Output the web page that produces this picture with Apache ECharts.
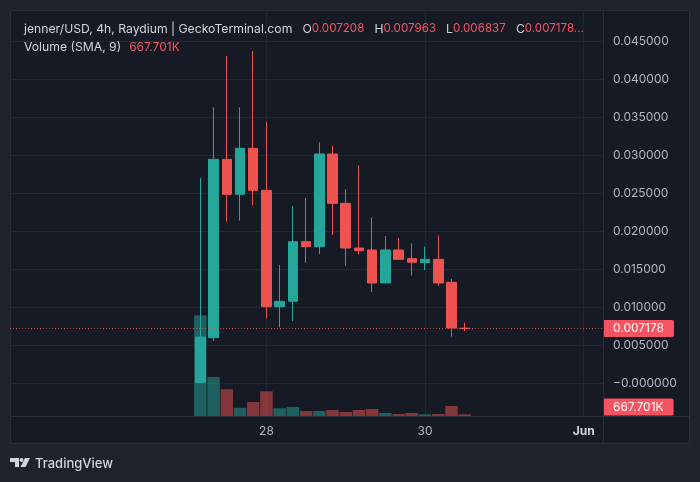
<!DOCTYPE html>
<html><head><meta charset="utf-8">
<script src="https://cdn.jsdelivr.net/npm/echarts@6/dist/echarts.min.js"></script>
<style>html,body{margin:0;padding:0;background:#1e222d}#c{width:700px;height:482px}</style>
</head><body><div id="c"></div>
<script>
// ---- data ----
const times = [
  '2024-05-27T04:00:00Z','2024-05-27T08:00:00Z','2024-05-27T12:00:00Z','2024-05-27T16:00:00Z','2024-05-27T20:00:00Z',
  '2024-05-28T00:00:00Z','2024-05-28T04:00:00Z','2024-05-28T08:00:00Z','2024-05-28T12:00:00Z','2024-05-28T16:00:00Z','2024-05-28T20:00:00Z',
  '2024-05-29T00:00:00Z','2024-05-29T04:00:00Z','2024-05-29T08:00:00Z','2024-05-29T12:00:00Z','2024-05-29T16:00:00Z','2024-05-29T20:00:00Z',
  '2024-05-30T00:00:00Z','2024-05-30T04:00:00Z','2024-05-30T08:00:00Z','2024-05-30T12:00:00Z'
];
const opens  = [0.00005,0.00596,0.02943,0.02483,0.03088,0.02535,0.01004,0.01075,0.01859,0.01794,0.03013,0.02364,0.01776,0.01750,0.01316,0.01750,0.01636,0.01583,0.01627,0.01325,0.007208];
const closes = [0.00605,0.02943,0.02483,0.03088,0.02535,0.01004,0.01075,0.01859,0.01794,0.03013,0.02364,0.01776,0.01741,0.01316,0.01750,0.01627,0.01588,0.01627,0.01316,0.00724,0.007178];
const lows   = [0.00003,0.00553,0.02122,0.02136,0.02338,0.00851,0.00733,0.00816,0.01583,0.01697,0.01947,0.01544,0.01693,0.01197,0.01316,0.01627,0.01412,0.01487,0.01280,0.00609,0.006837];
const highs  = [0.02697,0.03628,0.04303,0.03628,0.04368,0.03438,0.01553,0.02329,0.02439,0.03167,0.03122,0.02548,0.02864,0.02180,0.01934,0.01908,0.01838,0.01794,0.01938,0.01368,0.007963];
// volume in millions
const volumes = [40.3,15.6,10.7,3.3,5.6,9.9,3.1,3.6,2.0,2.0,2.4,1.6,2.4,2.8,1.2,0.8,1.2,0.68,0.8,4.0,0.667701];
const dayTicks = ['2024-05-28T00:00:00Z','2024-05-30T00:00:00Z','2024-06-01T00:00:00Z'];
const dayLabels = ['28','30','Jun'];
const priceInterval = 0.005;
const symbolTitle = 'jenner/USD, 4h, Raydium | GeckoTerminal.com';
const volumeTitle = 'Volume (SMA, 9)';
const volumeText = '667.701K';

// ---- helpers ----
const UP = '#26a69a', DOWN = '#ef5350', LABEL_RED = '#f7525f';
const FONT = 'Inter, Roboto, sans-serif';
const t0 = Date.parse(times[0]);
const hx = t => (Date.parse(t) - t0) / 3.6e6;
const xs = times.map(hx);
const tickX = dayTicks.map(hx);
const n = times.length;
const last = n - 1;

const candleData = xs.map((x, i) => [x, opens[i], closes[i], lows[i], highs[i]]);
const volData = xs.map((x, i) => ({
  value: [x, volumes[i]],
  itemStyle: { color: closes[i] >= opens[i] ? 'rgba(38,166,154,0.5)' : 'rgba(239,83,80,0.5)' }
}));

const fmtP = v => v.toFixed(6);

const chart = echarts.init(document.getElementById('c'), null, { renderer: 'canvas' });
const xMin = -57.6, xMax = 121.85;
const volLabelLevel = Math.max(volumes[last], 3.6);

const tagLabel = text => ({
  show: true, position: 'end', distance: 0, formatter: text, opacity: 1,
  backgroundColor: LABEL_RED, color: '#ffffff', fontSize: 12, fontFamily: FONT,
  lineHeight: 13, padding: [2, 10, 2, 10], borderRadius: 2
});

chart.setOption({
  animation: false,
  backgroundColor: '#1e222d',
  textStyle: { fontFamily: FONT },
  title: {
    left: 19, top: 15,
    text: `{n|${symbolTitle}}  {k|O}{v|${fmtP(opens[last])}}  {k|H}{v|${fmtP(highs[last])}}  {k|L}{v|${fmtP(lows[last])}}  {k|C}{v|${fmtP(closes[last])}...}\n{n|${volumeTitle}} {w|${volumeText}}`,
    textStyle: {
      fontWeight: 'normal',
      rich: {
        n: { color: '#d1d4dc', fontSize: 12.2, fontWeight: 'normal', fontFamily: FONT, lineHeight: 18 },
        k: { color: '#d1d4dc', fontSize: 12.2, fontWeight: 'normal', fontFamily: FONT, lineHeight: 18 },
        v: { color: LABEL_RED, fontSize: 11.6, fontWeight: 'normal', fontFamily: FONT, lineHeight: 18 },
        w: { color: LABEL_RED, fontSize: 12, fontWeight: 'normal', fontFamily: FONT, lineHeight: 18, padding: [0, 0, 0, 3] }
      }
    }
  },
  graphic: [
    { type: 'rect', z: -10, shape: { x: 10.5, y: 10.5, width: 679, height: 433 }, style: { fill: '#161a25', stroke: '#2a2e39', lineWidth: 1 } },
    { type: 'line', z: 100, shape: { x1: 603.5, y1: 10, x2: 603.5, y2: 443 }, style: { stroke: '#2a2e39', lineWidth: 1 } },
    { type: 'line', z: 100, shape: { x1: 10, y1: 416.5, x2: 690, y2: 416.5 }, style: { stroke: '#2a2e39', lineWidth: 1 } },
    { type: 'polygon', z: 100, shape: { points: [[10,458],[19,458],[19,467],[15,467],[15,462],[10,462]] }, style: { fill: '#d1d4dc' } },
    { type: 'circle', z: 100, shape: { cx: 21.5, cy: 460, r: 2 }, style: { fill: '#d1d4dc' } },
    { type: 'polygon', z: 100, shape: { points: [[25,458],[30,458],[25.5,467],[20.5,467]] }, style: { fill: '#d1d4dc' } },
    { type: 'text', z: 100, style: { x: 35, y: 464, text: 'TradingView', fill: '#d1d4dc', font: '500 13px ' + FONT, textVerticalAlign: 'middle' } }
  ],
  grid: [
    { left: 10, right: 97, top: 10, bottom: 61 },
    { left: 10, right: 97, top: 10, bottom: 66 }
  ],
  xAxis: [
    { gridIndex: 0, type: 'value', min: xMin, max: xMax, show: false },
    {
      gridIndex: 1, type: 'value', min: xMin, max: xMax,
      axisLine: { show: false },
      axisTick: { show: false, customValues: tickX },
      axisLabel: {
        customValues: tickX, color: '#b2b5be', fontSize: 12, margin: 9, fontFamily: FONT,
        formatter: v => {
          const i = tickX.findIndex(t => Math.abs(t - v) < 1e-6);
          const s = i >= 0 ? dayLabels[i] : '';
          return /^\d+$/.test(s) ? s : '{m|' + s + '}';
        },
        rich: { m: { color: '#d1d4dc', fontSize: 12, fontWeight: 'bold', fontFamily: FONT } }
      },
      splitLine: { show: true, lineStyle: { color: '#232733', width: 1 } }
    }
  ],
  yAxis: [
    {
      gridIndex: 0, type: 'value', position: 'right',
      min: -priceInterval, max: 0.0490789, interval: priceInterval,
      axisLine: { show: false }, axisTick: { show: false },
      axisLabel: {
        color: '#b2b5be', fontSize: 12, margin: 10, fontFamily: FONT,
        showMinLabel: false, showMaxLabel: false,
        formatter: v => Math.abs(v) < 1e-9 ? '\u22120.000000' : v.toFixed(6)
      },
      splitLine: { show: true, showMinLine: false, showMaxLine: false, lineStyle: { color: '#232733', width: 1 } }
    },
    { gridIndex: 1, type: 'value', min: 0, max: 162.4, show: false }
  ],
  series: [
    {
      type: 'bar', xAxisIndex: 1, yAxisIndex: 1, data: volData, barWidth: 12.5, z: 1,
      markLine: {
        silent: true, symbol: 'none',
        lineStyle: { color: 'rgba(0,0,0,0)', width: 0 },
        label: tagLabel(volumeText),
        data: [[{ coord: [xMin, volLabelLevel] }, { coord: [xMax, volLabelLevel] }]]
      }
    },
    {
      type: 'candlestick', xAxisIndex: 0, yAxisIndex: 0, z: 3,
      encode: { x: 0, y: [1, 2, 3, 4] },
      data: candleData, barWidth: 10,
      itemStyle: { color: UP, color0: DOWN, borderColor: UP, borderColor0: DOWN, borderWidth: 1 },
      markLine: {
        silent: true, symbol: 'none',
        lineStyle: { type: [1, 2], color: DOWN, width: 1, opacity: 0.8 },
        label: tagLabel(fmtP(closes[last])),
        data: [[{ coord: [xMin, closes[last]] }, { coord: [xMax, closes[last]] }]]
      }
    }
  ]
});
</script></body></html>
